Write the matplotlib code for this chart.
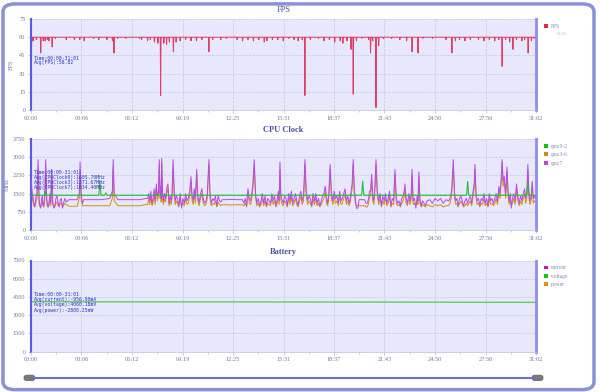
import numpy as np
import matplotlib
import matplotlib.pyplot as plt
from matplotlib.patches import FancyBboxPatch, Patch
from matplotlib.lines import Line2D
from matplotlib.ticker import FixedLocator

# ---- data (seconds from start) ----
x_tick_secs = [0, 186, 372, 559, 745, 931, 1117, 1303, 1490, 1676, 1862]
x_tick_labels = ['00:00', '03:06', '06:12', '09:19', '12:25', '15:31',
                 '18:37', '21:43', '24:50', '27:56', '31:02']
x_minor_secs = [93, 279, 466, 652, 838, 1024, 1210, 1397, 1583, 1769]

fps_base = 60
fps_dip_t = [2, 8, 20, 36, 45, 52, 60, 66, 78, 90, 130, 160, 180, 196, 230, 250, 280,
             300, 306, 320, 350, 400, 408, 430, 440, 455, 468, 478, 490, 500, 510, 525,
             535, 550, 570, 590, 610, 630, 656, 670, 700, 720, 760, 780, 800, 820, 840,
             860, 870, 890, 910, 930, 950, 970, 985, 1000, 1010, 1030, 1060, 1080, 1100,
             1120, 1140, 1150, 1165, 1180, 1188, 1200, 1220, 1245, 1252, 1260, 1272, 1282,
             1300, 1330, 1360, 1385, 1405, 1427, 1445, 1480, 1530, 1552, 1565, 1580, 1600,
             1620, 1650, 1670, 1690, 1710, 1725, 1737, 1750, 1765, 1777, 1790, 1810, 1820,
             1833, 1845, 1855]
fps_dip_v = [52, 57, 58, 47, 57, 57, 58, 57, 52, 59, 58, 58, 58, 57, 59, 58, 58,
             57, 47, 59, 59, 59, 58, 57, 58, 56, 55, 12, 55, 54, 56, 48,
             56, 57, 58, 57, 57, 58, 48, 58, 58, 59, 58, 57, 58, 57, 58,
             56, 57, 58, 58, 57, 59, 58, 57, 58, 12, 58, 59, 57, 58,
             56, 57, 55, 57, 50, 13, 57, 59, 58, 47, 57, 2, 53,
             59, 59, 58, 57, 48, 47, 59, 59, 58, 47, 57, 58, 57,
             58, 58, 57, 58, 57, 58, 36, 58, 56, 50, 58, 57, 58,
             47, 57, 59]

cpu_t = [
    0, 4, 8, 12, 15, 19, 22, 26, 30, 33, 36, 39, 42, 45, 48, 51, 54, 58, 61, 64,
    67, 70, 73, 76, 80, 84, 88, 92, 96, 100, 104, 108, 112, 116, 120, 125, 130,
    140, 150, 160, 170, 178, 181, 185, 190,
    195, 230, 260, 290, 300, 303, 307, 320, 360, 400, 425,
    430, 434, 438, 442, 446, 450, 454, 458, 462, 466, 470, 473, 476, 478, 480, 482, 485,
    488, 492, 496, 500, 505, 509, 513, 517, 520, 524, 528, 532, 536, 540, 545, 550, 555,
    560, 565, 570, 575, 580, 585, 590, 594, 598, 602, 606, 611, 615, 620, 625, 630, 635,
    640, 645, 650, 656, 660, 665, 670, 675, 680, 685, 690, 695, 700,
    705, 720, 740, 760, 780, 785,
    790, 795, 800, 805, 810, 814, 818, 823, 828, 833, 838, 843, 848, 853, 858, 863, 868,
    873, 878, 883, 888, 893, 898, 903, 908, 912, 915, 918, 921, 924, 930, 935, 940, 945,
    950, 955, 960, 965, 970, 975, 980, 985, 990, 995, 1000, 1005, 1010, 1015, 1020, 1025,
    1030, 1035, 1040, 1045, 1050, 1055, 1060, 1065, 1070, 1075, 1080, 1085, 1090, 1094,
    1098, 1103, 1108, 1113, 1118, 1123, 1128, 1133, 1138, 1143, 1148, 1153, 1158, 1163,
    1168, 1173, 1178, 1184, 1188, 1192, 1196, 1200,
    1205, 1210, 1215, 1220, 1225, 1230, 1235, 1240,
    1245, 1248, 1252, 1256, 1260, 1264, 1268, 1272, 1277, 1282, 1287, 1292, 1297, 1302,
    1307, 1312, 1317, 1322, 1327, 1332, 1337, 1342, 1347, 1352, 1357, 1362, 1367, 1372,
    1376, 1379, 1383, 1388, 1393, 1398, 1402, 1405, 1409, 1414, 1419, 1424, 1427, 1430,
    1434, 1439, 1444, 1449, 1454, 1460,
    1470, 1480, 1490, 1500, 1510, 1520, 1530, 1540,
    1545, 1549, 1552, 1557, 1562, 1566, 1570, 1575, 1580, 1585, 1590, 1595, 1600, 1605,
    1610, 1615, 1620, 1625, 1630, 1634, 1637, 1641, 1645, 1650, 1655, 1660, 1665, 1670,
    1675, 1680, 1685, 1690, 1695, 1700, 1705, 1710, 1715, 1720, 1725, 1729, 1733, 1737,
    1741, 1745, 1750, 1755, 1759, 1763, 1767, 1771, 1775, 1780, 1785, 1790, 1795, 1800,
    1805, 1810, 1815, 1820, 1824, 1828, 1832, 1836, 1840, 1844, 1848, 1852, 1856, 1862]
cpu7_v = [
    2100, 1600, 1300, 1000, 1050, 1400, 1500, 2900, 1200, 1000, 900, 1300, 1400, 1000,
    1100, 1500, 2900, 1300, 1000, 950, 1200, 1500, 1100, 2500, 1200, 900, 1000, 1300,
    1400, 1100, 950, 1250, 1300, 900, 1100, 1300, 1150,
    1250, 1250, 1250, 1250, 1500, 2800, 1500, 1100,
    1250, 1250, 1250, 1300, 1600, 2900, 1500, 1250, 1250, 1250, 1300,
    1300, 1500, 1200, 1600, 1100, 1300, 1700, 1200, 1900, 1400, 1600, 2900, 1500, 1800,
    1300, 2950, 1600, 1200, 1500, 1300, 1700, 1900, 1100, 1400, 1200, 1500, 2900, 1600,
    1200, 1400, 1300, 1000, 1500, 900, 1300, 1100, 1500, 1200, 1300, 1600, 2200, 1400,
    1200, 1700, 1300, 2500, 1400, 1100, 1500, 1700, 1300, 1100, 1200, 1500, 2900, 1500,
    1100, 1300, 1200, 1400, 1000, 1400, 1200, 1150,
    1250, 1250, 1260, 1250, 1250, 1100,
    1300, 1000, 1700, 1300, 1200, 1500, 1900, 2900, 1500, 1100, 1300, 1000, 1200, 1500,
    1100, 1400, 1000, 1300, 1200, 1100, 1500, 1200, 1400, 1000, 1300, 1600, 1200, 2800,
    1500, 1300, 1100, 1400, 1300, 1000, 1500, 1200, 1600, 1100, 1300, 1500, 1200, 1000,
    1400, 1600, 1200, 1400, 2900, 1600, 1200, 1400, 1300, 1000, 1500, 1200, 1500, 1100,
    1300, 1000, 1200, 1400, 1500, 1800, 1300, 1100, 1500, 2700, 1500, 1200, 1600, 1300,
    1400, 1100, 1600, 1200, 1300, 1500, 1700, 1200, 1400, 1100, 1400, 1900, 2900, 1700,
    1300, 900,
    900, 1250, 1250, 1250, 1250, 1250, 1100, 1100,
    1300, 1600, 1600, 2300, 1400, 1200, 1800, 2900, 1600, 1200, 1500, 1000, 1400, 1200,
    1500, 1100, 1300, 1600, 1000, 1300, 1200, 2500, 1300, 1100, 1200, 1000, 1300, 1400,
    1600, 1900, 1300, 1100, 1500, 1200, 1500, 2500, 1200, 1300, 900, 1400, 1200, 2400,
    1300, 1000, 1200, 1100, 1000, 1200,
    1250, 1100, 1300, 1200, 1300, 1100, 1250, 1200,
    1300, 1500, 1800, 2900, 1500, 1200, 1300, 1000, 1300, 1400, 1200, 1000, 1200, 1300,
    1100, 1300, 1400, 1100, 1600, 1900, 2700, 1500, 1200, 1300, 1000, 1300, 1200, 1500,
    1100, 1300, 1000, 1500, 1200, 1300, 1100, 1300, 1500, 1200, 1800, 1500, 2000, 2900,
    2000, 2200, 1500, 2600, 1600, 1200, 1500, 900, 1300, 1500, 1200, 1900, 1400, 1100,
    1400, 1200, 1500, 1700, 1300, 1500, 2700, 1500, 1200, 1400, 2000, 1300, 1400, 1300]
cpu36_v = [
    1700, 1400, 1100, 950, 950, 1200, 1300, 2600, 1050, 950, 1000, 1100, 1200, 950,
    950, 1300, 2700, 1100, 950, 950, 1050, 1300, 1000, 2200, 1050, 950, 950, 1100,
    1150, 1000, 1000, 1100, 1100, 950, 1000, 1100, 1050,
    980, 980, 980, 980, 1300, 2500, 1200, 1000,
    1000, 1000, 1000, 1000, 1300, 2600, 1200, 1000, 1000, 1000, 1050,
    1050, 1300, 1050, 1400, 1000, 1100, 1500, 1050, 1700, 1200, 1400, 2700, 1300, 1600,
    1150, 2800, 1400, 1050, 1300, 1150, 1500, 1700, 1000, 1200, 1050, 1300, 2600, 1400,
    1050, 1200, 1100, 950, 1300, 1000, 1100, 1000, 1300, 1050, 1100, 1400, 2000, 1200,
    1050, 1500, 1100, 2300, 1200, 1000, 1300, 1500, 1100, 1000, 1050, 1300, 2700, 1300,
    1000, 1100, 1050, 1200, 950, 1150, 1050, 1000,
    1040, 1040, 1030, 1040, 1040, 1000,
    1100, 950, 1500, 1100, 1050, 1300, 1700, 2600, 1300, 1000, 1100, 950, 1050, 1300,
    1000, 1200, 950, 1100, 1050, 1000, 1300, 1050, 1200, 950, 1100, 1400, 1050, 2500,
    1300, 1100, 1000, 1200, 1100, 950, 1300, 1050, 1400, 1000, 1100, 1300, 1050, 950,
    1200, 1400, 1050, 1200, 2700, 1400, 1050, 1200, 1100, 950, 1300, 1050, 1300, 1000,
    1100, 950, 1050, 1200, 1300, 1600, 1100, 1000, 1300, 2500, 1300, 1050, 1400, 1100,
    1200, 1000, 1400, 1050, 1100, 1300, 1500, 1050, 1200, 1000, 1200, 1700, 2700, 1500,
    1100, 1000,
    1000, 1000, 1000, 1000, 1000, 1000, 950, 950,
    1100, 1400, 1400, 2100, 1200, 1050, 1600, 2700, 1400, 1050, 1300, 950, 1200, 1050,
    1300, 1000, 1100, 1400, 950, 1100, 1050, 2300, 1100, 1000, 1050, 950, 1100, 1200,
    1400, 1700, 1100, 1000, 1300, 1050, 1300, 2300, 1050, 1100, 1000, 1200, 1050, 2200,
    1100, 950, 1050, 1000, 950, 1050,
    1000, 950, 1050, 1000, 1050, 950, 1000, 1000,
    1100, 1300, 1600, 2600, 1300, 1050, 1100, 950, 1100, 1200, 1050, 950, 1000, 1100,
    1000, 1100, 1200, 1000, 1400, 1700, 2500, 1300, 1050, 1100, 950, 1100, 1050, 1300,
    1000, 1100, 950, 1300, 1050, 1100, 1000, 1100, 1300, 1050, 1600, 1300, 1800, 2800,
    1800, 2000, 1300, 2400, 1400, 1050, 1300, 1000, 1100, 1300, 1050, 1700, 1200, 1000,
    1200, 1050, 1300, 1500, 1100, 1300, 2500, 1300, 1050, 1200, 1800, 1100, 1200, 1150]
cpu02_t = [0, 50, 52, 54, 250, 254, 258, 272, 276, 280, 1219, 1223, 1227,
           1606, 1610, 1614, 1828, 1832, 1836, 1862]
cpu02_v = [1430, 1430, 1600, 1430, 1430, 2000, 1430, 1430, 1530, 1430, 1430, 2010, 1430,
           1430, 2000, 1430, 1430, 1950, 1430, 1430]

bat_t = [0, 600, 1200, 1800, 1862]
bat_voltage = [4100, 4090, 4075, 4055, 4050]
bat_current = [-950, -955, -958, -960, -960]
bat_power = [-2800, -2805, -2808, -2810, -2812]

fps_notes = ['Time:00:00-31:01', 'Avg(FPS):58.82']
cpu_notes = ['Time:00:00-31:01', 'Avg(CPUClock0):1605.70MHz',
             'Avg(CPUClock3):1371.67MHz', 'Avg(CPUClock7):1634.40MHz']
bat_notes = ['Time:00:00-31:01', 'Avg(current):-956.90mA',
             'Avg(voltage):4060.18mV', 'Avg(power):-2808.25mW']

assert len(cpu_t) == len(cpu7_v) == len(cpu36_v)

# ---- style ----
serif = 'Liberation Serif'
mono = 'DejaVu Sans Mono'
tick_col = '#7078a8'
note_col = '#2c34c8'

fig = plt.figure(figsize=(6, 3.92), dpi=100)
fig.patch.set_facecolor('white')
fig.add_artist(FancyBboxPatch((0.005, 0.006), 0.985, 0.984,
                              boxstyle='round,pad=0,rounding_size=0.02',
                              transform=fig.transFigure, facecolor='white',
                              edgecolor='#8890d8', lw=2.5, zorder=-5))

left, width = 31 / 600, 505 / 600
panels = [(110, 'FPS', 'normal'), (230, 'CPU Clock', 'bold'), (351.5, 'Battery', 'bold')]
axes = []
for bot_px, title, weight in panels:
    ax = fig.add_axes([left, 1 - bot_px / 392, width, 91 / 392])
    ax.set_facecolor('#e8e8fc')
    ax.set_xlim(0, 1862)
    ax.xaxis.set_major_locator(FixedLocator(x_tick_secs))
    ax.xaxis.set_minor_locator(FixedLocator(x_minor_secs))
    ax.set_xticklabels(x_tick_labels)
    ax.grid(True, which='major', color='#c4c6e6', linestyle='--', lw=0.5)
    ax.set_axisbelow(True)
    ax.spines['top'].set_visible(False)
    ax.spines['left'].set_color('#5a5ae8')
    ax.spines['left'].set_linewidth(1.5)
    ax.spines['right'].set_color('#8c8cf0')
    ax.spines['right'].set_linewidth(2)
    ax.spines['bottom'].set_color('#c4c6e0')
    ax.spines['bottom'].set_linewidth(0.6)
    ax.tick_params(axis='both', which='both', labelsize=4.5, colors='#b0b4cc',
                   labelcolor=tick_col, length=2, width=0.5, pad=2)
    ax.tick_params(axis='x', which='minor', length=1.5)
    for lab in ax.get_xticklabels() + ax.get_yticklabels():
        lab.set_fontfamily(serif)
    fig.text(left + width / 2, 1 - (bot_px - 91 - 9) / 392, title, ha='center', va='center',
             fontsize=6, fontfamily=serif, fontweight=weight, color='#4a52a0')
    axes.append(ax)

ax_fps, ax_cpu, ax_bat = axes

# FPS
fps_t, fps_v = [0], [fps_base]
for t, v in zip(fps_dip_t, fps_dip_v):
    fps_t += [t - 1.5, t, t + 1.5]
    fps_v += [fps_base, v, fps_base]
fps_t.append(1862)
fps_v.append(fps_base)
ax_fps.plot(fps_t, fps_v, color='#e03c64', lw=0.7)
ax_fps.set_ylim(0, 75)
ax_fps.set_yticks([0, 15, 30, 45, 60, 75])
ax_fps.set_ylabel('FPS', fontsize=4.5, fontfamily=serif, color=tick_col, labelpad=4)

# CPU
ax_cpu.plot(cpu02_t, cpu02_v, color='#22c03a', lw=0.8, zorder=4)
ax_cpu.plot(cpu_t, cpu36_v, color='#d09010', lw=0.7, zorder=2)
ax_cpu.plot(cpu_t, cpu7_v, color='#b848f0', lw=0.7, zorder=3)
ax_cpu.set_ylim(0, 3750)
ax_cpu.set_yticks([0, 750, 1500, 2250, 3000, 3750])
ax_cpu.set_ylabel('MHz', fontsize=4.5, fontfamily=serif, color=tick_col, labelpad=2)

# Battery
ax_bat.plot(bat_t, bat_current, color='#d020b0', lw=0.8)
ax_bat.plot(bat_t, bat_voltage, color='#5ccf5c', lw=1.0)
ax_bat.plot(bat_t, bat_power, color='#e0a000', lw=0.8)
ax_bat.set_ylim(0, 7500)
ax_bat.set_yticks([0, 1500, 3000, 4500, 6000, 7500])

# notes inside plots
for ax, notes, y0, step in [(ax_fps, fps_notes, 0.57, 0.052),
                            (ax_cpu, cpu_notes, 0.63, 0.055),
                            (ax_bat, bat_notes, 0.63, 0.058)]:
    for i, s in enumerate(notes):
        ax.text(0.006, y0 - i * step, s, transform=ax.transAxes, fontsize=3.4,
                fontfamily=mono, color=note_col, va='center', ha='left', zorder=6)

# legends
leg_specs = [
    (ax_fps, [('FPS', '#e8283c')]),
    (ax_cpu, [('cpu:0-2', '#10c010'), ('cpu:3-6', '#c89010'), ('cpu:7', '#c040f0')]),
    (ax_bat, [('current', '#d010a8'), ('voltage', '#10c820'), ('power', '#d89800')]),
]
for ax, items in leg_specs:
    handles = [Patch(facecolor=c, edgecolor='none', label=n) for n, c in items]
    leg = ax.legend(handles=handles, loc='upper left', bbox_to_anchor=(1.012, 0.97),
                    frameon=False, handlelength=0.7, handleheight=0.7,
                    handletextpad=0.5, labelspacing=0.6, borderaxespad=0,
                    prop={'family': serif, 'size': 4})
    for txt in leg.get_texts():
        txt.set_color('#8088b0')
fig.text(left + width + 0.035, 1 - 34 / 392, '58.82', fontsize=3.2, fontfamily=serif,
         color='#b0b4d0', va='center')

# range slider under the charts
fig.add_artist(Line2D([0.055, 0.89], [0.036, 0.036], color='#6a72d4', lw=1.5,
                      transform=fig.transFigure))
for xh in [0.04, 0.887]:
    fig.add_artist(FancyBboxPatch((xh, 0.029), 0.018, 0.014,
                                  boxstyle='round,pad=0,rounding_size=0.005',
                                  transform=fig.transFigure, facecolor='#7a7a7a',
                                  edgecolor='#606060', lw=0.5))

fig.savefig('out.png', dpi=100)
